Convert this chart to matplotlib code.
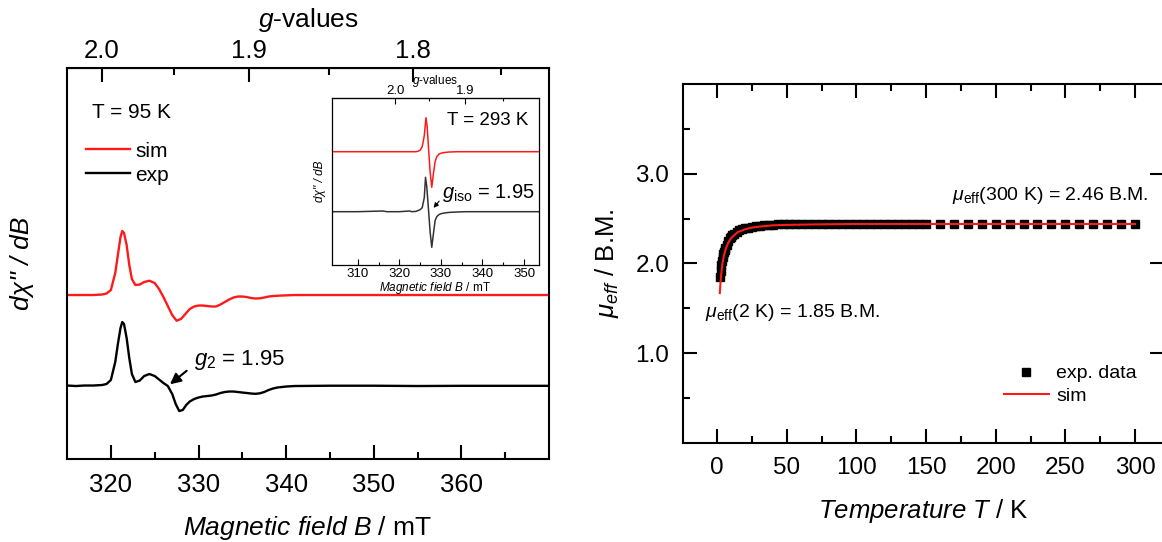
import numpy as np
import matplotlib
matplotlib.use("Agg")
from matplotlib import pyplot as plt

plt.rcParams["font.family"] = "Liberation Sans"
plt.rcParams["mathtext.fontset"] = "custom"
plt.rcParams["mathtext.rm"] = "Liberation Sans"
plt.rcParams["mathtext.it"] = "Liberation Sans:italic"
plt.rcParams["mathtext.bf"] = "Liberation Sans:bold"

# ---- EPR at 95 K (field in mT, signal relative to its baseline) ----
field_sim = [315, 318, 319, 319.5, 320, 320.5, 320.8, 321.1, 321.3, 321.5, 321.8, 322.1,
             322.4, 322.8, 323.3, 323.8, 324.4, 325, 325.5, 326, 326.5, 327, 327.5, 328,
             328.5, 329, 329.5, 330, 330.5, 331, 331.5, 332, 332.5, 333, 333.5, 334, 334.5,
             335, 335.5, 336, 336.5, 337, 337.5, 338, 338.5, 339.5, 341, 370]
signal_sim = [0, 0, 0.5, 1.5, 5, 22, 40, 58, 64, 62, 50, 30,
              16, 10, 10.5, 13, 14.3, 12, 6, -2, -11, -20, -25.7, -24,
              -19, -14, -11.5, -10.5, -10.5, -11, -11.5, -11.5, -9.5, -7, -4.5, -2.5, -1.5,
              -1.5, -2, -3, -3.5, -3.3, -2.5, -1.5, -1, -0.5, 0, 0]

field_exp = [315, 316, 317, 318, 319, 319.5, 320, 320.5, 320.8, 321.1, 321.3, 321.5, 321.8,
             322.1, 322.4, 322.8, 323.3, 323.8, 324.4, 325, 325.5, 326, 326.5, 327, 327.4,
             327.8, 328.2, 328.6, 329, 329.5, 330, 330.5, 331, 331.5, 332, 332.5, 333,
             333.5, 334, 334.5, 335, 335.5, 336, 336.5, 337, 337.5, 338, 338.5, 339, 340,
             341, 345, 350, 355, 360, 370]
signal_exp = [0.5, 0, 0.5, 0.5, 1, 2, 6, 24, 42, 58, 64, 62, 48,
              28, 12, 4, 5.5, 10, 12, 10, 6.5, 3, 0, -8, -18,
              -25, -24, -19, -15.5, -13, -11.5, -10.5, -10, -9.5, -8.5, -7, -6,
              -5.5, -5.5, -6, -6.5, -7, -7.5, -7.8, -7.3, -6, -4, -2.5, -1.5, -0.5,
              0, 0.3, 0.3, 0, 0.2, 0.2]

# ---- EPR at 293 K (inset) ----
field_rt_sim = [304, 324, 324.5, 325, 325.5, 326, 326.4, 326.7, 327, 327.4, 327.8, 328.2,
                328.6, 329, 329.5, 330, 331, 332, 334, 354]
signal_rt_sim = [0, 0, 0.5, 1.5, 5, 16, 34, 25, 5, -20, -35.6, -22,
                 -10, -5, -2.5, -1.5, -0.7, -0.3, 0, 0]
field_rt_exp = [304, 310, 316, 317, 320, 322.5, 323, 324, 325, 325.5, 326, 326.3, 326.6,
                327, 327.4, 327.8, 328.2, 328.6, 329, 329.5, 330, 331, 332, 334, 336, 354]
signal_rt_exp = [0, 0, 0.7, 0, 0, 0.7, 0, 0.3, 2, 4, 14, 34.4, 25,
                 3, -20, -35.6, -22, -9, -5, -3, -2, -1.2, -0.7, -0.3, 0, 0]

# ---- effective magnetic moment ----
temp_exp = [2, 2.5, 3, 3.5, 4, 4.5, 5, 5.5, 6, 7, 8, 9, 10, 11, 12, 14, 16, 18, 20, 22,
            25, 28, 31, 34, 37, 40, 44, 48, 52, 56, 60, 65, 70, 75, 80, 85, 90, 95, 100,
            105, 110, 115, 120, 125, 130, 135, 140, 145, 150, 160, 170, 180, 190, 200,
            210, 220, 230, 240, 250, 260, 270, 280, 290, 300]
mu_exp = [1.85, 1.92, 1.98, 2.03, 2.07, 2.10, 2.13, 2.15, 2.17, 2.21, 2.25, 2.28, 2.30,
          2.32, 2.33, 2.35, 2.37, 2.38, 2.39, 2.40, 2.41, 2.415, 2.42, 2.425, 2.43, 2.43,
          2.435, 2.435, 2.44, 2.44, 2.44, 2.44, 2.44, 2.445, 2.445, 2.445, 2.445, 2.445,
          2.445, 2.445, 2.445, 2.445, 2.445, 2.445, 2.445, 2.445, 2.445, 2.445, 2.445,
          2.44, 2.44, 2.44, 2.44, 2.44, 2.44, 2.44, 2.44, 2.44, 2.44, 2.44, 2.44, 2.44,
          2.44, 2.44]
temp_sim = [2.0, 2.5, 3, 3.5, 4, 5, 6, 7, 8, 10, 12, 15, 20, 25, 30, 40, 50, 70, 100,
            150, 200, 250, 300]
mu_sim = [1.67, 1.79, 1.88, 1.95, 2.01, 2.09, 2.15, 2.19, 2.23, 2.28, 2.31, 2.35, 2.38,
          2.40, 2.41, 2.425, 2.43, 2.435, 2.44, 2.44, 2.44, 2.44, 2.44]

g_major = [2.0, 1.9, 1.8]
g_minor = [1.95, 1.85, 1.75]
HNU = 638.0  # g * B (mT) for the spectrometer frequency


def field_to_g(b):
    b = np.asarray(b, dtype=float)
    return HNU / np.where(b == 0, np.nan, b)


fig = plt.figure(figsize=(11.62, 5.42), dpi=100)

# ---------------- left panel ----------------
ax = fig.add_axes([0.0577, 0.1531, 0.4148, 0.7214])
ax.plot(field_sim, np.array(signal_sim) + 164, color="#ff1a1a", lw=1.7, label="sim")
ax.plot(field_exp, np.array(signal_exp) + 73, color="black", lw=1.7, label="exp")
ax.set_xlim(315, 370)
ax.set_ylim(0, 391)
ax.set_yticks([])
ax.set_xticks([320, 330, 340, 350, 360])
ax.set_xticks([325, 335, 345, 355, 365], minor=True)
ax.tick_params(axis="x", which="major", direction="in", length=10, width=1.5, labelsize=18.5, pad=10)
ax.tick_params(axis="x", which="minor", direction="in", length=5, width=1.5)
for s in ax.spines.values():
    s.set_linewidth(1.5)
ax.set_xlabel(r"$\it{Magnetic\ field\ B}$ / mT", fontsize=19, labelpad=12)
ax.set_ylabel("d\u03c7'' / dB", fontsize=19, style="italic", labelpad=24)

top = ax.secondary_xaxis("top", functions=(field_to_g, field_to_g))
top.set_xticks(g_major)
top.set_xticklabels(["2.0", "1.9", "1.8"])
top.set_xticks(g_minor, minor=True)
top.tick_params(which="major", direction="in", length=10, width=1.5, labelsize=18.5, pad=3.8)
top.tick_params(which="minor", direction="in", length=5, width=1.5)
top.set_xlabel(r"$g$-values", fontsize=19, labelpad=8.5)

ax.text(317.8, 347, "T = 95 K", fontsize=15, va="center")
ax.legend(loc="upper left", bbox_to_anchor=(0.04, 0.812), frameon=False, fontsize=15,
          handlelength=2.1, handletextpad=0.25, borderpad=0, borderaxespad=0, labelspacing=0.25)
ax.annotate("", xy=(326.5, 73), xytext=(328.9, 90),
            arrowprops=dict(arrowstyle="-|>", color="black", lw=1.5, mutation_scale=16))
ax.text(329.5, 99, r"$g_2$ = 1.95", fontsize=16, va="center")

# inset
ins = fig.add_axes([0.2855, 0.5111, 0.1784, 0.3075])
ins.plot(field_rt_sim, np.array(signal_rt_sim) + 113.3, color="#ff1a1a", lw=1.1)
ins.plot(field_rt_exp, np.array(signal_rt_exp) + 53.3, color="#333333", lw=1.1)
ins.set_xlim(303.75, 353.6)
ins.set_ylim(0, 166.7)
ins.set_yticks([])
ins.set_xticks([310, 320, 330, 340, 350])
ins.set_xticks([315, 325, 335, 345], minor=True)
ins.tick_params(axis="x", which="major", direction="in", length=4, width=0.8, labelsize=9.5, pad=2)
ins.tick_params(axis="x", which="minor", direction="in", length=2.5, width=0.8)
for s in ins.spines.values():
    s.set_linewidth(0.9)
ins.set_xlabel(r"$\it{Magnetic\ field\ B}$ / mT", fontsize=8.5, labelpad=0)
ins.set_ylabel("d\u03c7'' / dB", fontsize=8.5, style="italic", labelpad=4)
ins_top = ins.secondary_xaxis("top", functions=(field_to_g, field_to_g))
ins_top.set_xticks([2.0, 1.9])
ins_top.set_xticklabels(["2.0", "1.9"])
ins_top.set_xticks([1.95, 1.85], minor=True)
ins_top.tick_params(which="major", direction="in", length=4, width=0.8, labelsize=9.5, pad=1)
ins_top.tick_params(which="minor", direction="in", length=2.5, width=0.8)
ins_top.set_xlabel(r"$g$-values", fontsize=8.5, labelpad=1)
ins.text(331.5, 145, "T = 293 K", fontsize=13.5, va="center")
ins.annotate("", xy=(327.8, 55), xytext=(330.0, 66),
             arrowprops=dict(arrowstyle="-|>", color="black", lw=0.8, mutation_scale=7))
ins.text(330.3, 72, r"$g_{\rm iso}$ = 1.95", fontsize=14.5, va="center")

# ---------------- right panel ----------------
bx = fig.add_axes([0.5878, 0.1827, 0.4139, 0.6624])
bx.plot(temp_exp, mu_exp, ls="none", marker="s", ms=6.3, color="black", label="exp. data")
bx.plot(temp_sim, mu_sim, color="#ff1a1a", lw=1.5, label="sim")
bx.set_xlim(-24.4, 320.8)
bx.set_ylim(0, 4)
bx.set_xticks([0, 50, 100, 150, 200, 250, 300])
bx.set_xticks([25, 75, 125, 175, 225, 275], minor=True)
bx.set_yticks([1.0, 2.0, 3.0])
bx.set_yticklabels(["1.0", "2.0", "3.0"])
bx.set_yticks([0.5, 1.5, 2.5, 3.5], minor=True)
bx.tick_params(which="major", direction="in", length=10, width=1.5, labelsize=17.5,
               top=True, right=True)
bx.tick_params(which="minor", direction="in", length=5, width=1.5, top=True)
bx.tick_params(axis="x", pad=10)
bx.tick_params(axis="y", pad=10)
for s in bx.spines.values():
    s.set_linewidth(1.5)
bx.set_xlabel(r"$\it{Temperature\ T}$ / K", fontsize=18.5, labelpad=13)
bx.set_ylabel(r"$\mu_{eff}$ / B.M.", fontsize=18.5, labelpad=10)
bx.text(168.7, 2.76, r"$\mu_{\rm eff}$(300 K) = 2.46 B.M.", fontsize=14, va="center")
bx.text(-8.6, 1.45, r"$\mu_{\rm eff}$(2 K) = 1.85 B.M.", fontsize=14, va="center")
bx.legend(loc="upper left", bbox_to_anchor=(0.667, 0.218), frameon=False, fontsize=14,
          numpoints=1, handlelength=2.3, handletextpad=0.4, borderpad=0, borderaxespad=0,
          labelspacing=0.25)

fig.savefig("out.png", dpi=100)
